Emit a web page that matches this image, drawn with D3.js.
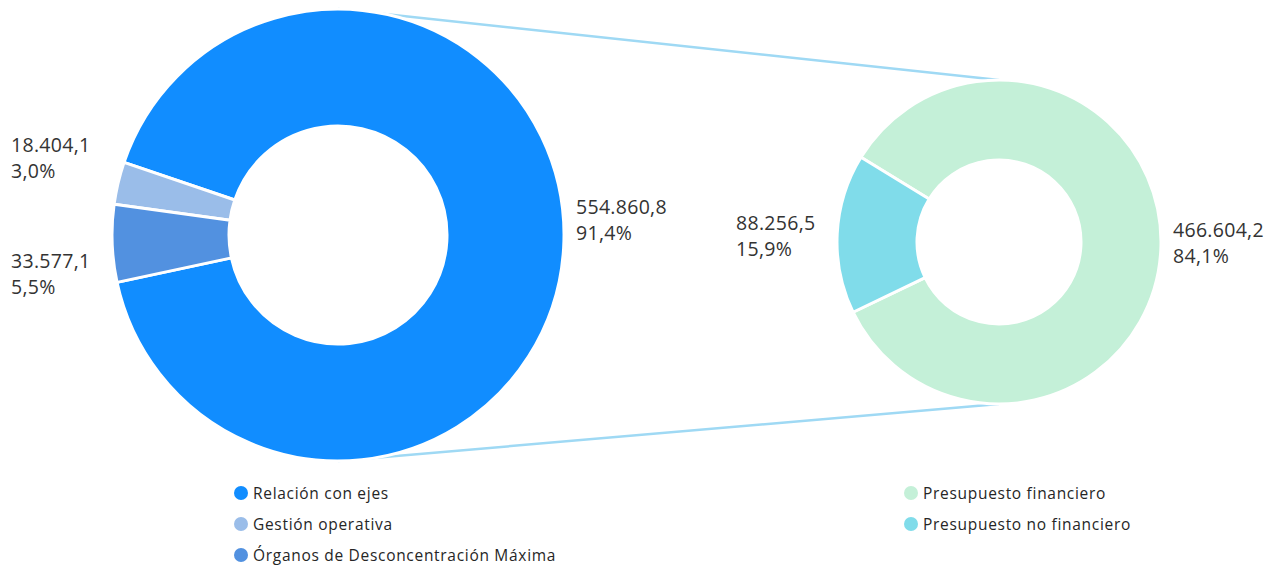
<!DOCTYPE html>
<html>
<head>
<meta charset="utf-8">
<script src="https://cdn.jsdelivr.net/npm/d3@7"></script>
<style>
  body { margin: 0; background: #fff; }
  svg { display: block; font-family: "Open Sans", "Liberation Sans", sans-serif; }
</style>
</head>
<body>
<div id="chart"></div>
<script>
'use strict';

// Data
var mainCategories = ["Relación con ejes", "Gestión operativa", "Órganos de Desconcentración Máxima"];
var mainValues = [554860.8, 18404.1, 33577.1];
var mainColors = ["#118dff", "#9abde9", "#5291e0"];

var subCategories = ["Presupuesto financiero", "Presupuesto no financiero"];
var subValues = [466604.2, 88256.5];
var subColors = ["#c4f0d8", "#80dcea"];

var lineColor = "#9fd9f4";

var App = (function() {
function run() {
  var width = 1282, height = 566;

  var locale = d3.formatLocale({decimal: ",", thousands: ".", grouping: [3], currency: ["", ""]});
  var fmtVal = locale.format(",.1f");
  var fmtPct = locale.format(".1%");

  var svg = d3.select("#chart").append("svg")
    .attr("width", width)
    .attr("height", height);

  // pie layouts, both drawn counterclockwise from lower left
  var deg = Math.PI / 180;
  var left = {cx: 338, cy: 235, r: 226, ir: 109, start: 257.9 * deg};
  var right = {cx: 999, cy: 242, r: 162, ir: 82, start: 244.3 * deg};

  // connector lines (behind the donuts)
  [[-1, -1], [1, 1]].forEach(function(s) {
    svg.append("line")
      .attr("x1", left.cx).attr("y1", left.cy + s[0] * left.r)
      .attr("x2", right.cx).attr("y2", right.cy + s[1] * right.r)
      .attr("stroke", lineColor)
      .attr("stroke-width", 2.5);
  });

  function drawDonut(cfg, values, colors, labelOffsets) {
    var pie = d3.pie().sort(null)
      .startAngle(cfg.start + 2 * Math.PI)
      .endAngle(cfg.start);
    var arc = d3.arc().innerRadius(cfg.ir).outerRadius(cfg.r);
    var total = d3.sum(values);
    var g = svg.append("g")
      .attr("transform", "translate(" + cfg.cx + "," + cfg.cy + ")");
    var arcs = pie(values);
    g.selectAll("path")
      .data(arcs)
      .enter().append("path")
      .attr("d", arc)
      .attr("fill", function(d, i) { return colors[i]; })
      .attr("stroke", "#fff")
      .attr("stroke-width", 3)
      .attr("stroke-linejoin", "round");

    // data labels
    arcs.forEach(function(d, i) {
      var mid = (d.startAngle + d.endAngle) / 2;
      var onRight = Math.sin(mid) > 0;
      var x = onRight ? cfg.r + 12 : -cfg.r - 101;
      var y = labelOffsets[i];
      var t = g.append("text")
        .attr("x", x)
        .attr("y", y)
        .attr("font-size", 19.5)
        .attr("letter-spacing", 0.3)
        .attr("fill", "#333");
      t.append("tspan").attr("x", x).text(fmtVal(values[i]));
      t.append("tspan").attr("x", x).attr("dy", 26).text(fmtPct(values[i] / total));
    });
  }

  drawDonut(left, mainValues, mainColors, [-21, -83, 33]);
  drawDonut(right, subValues, subColors, [-5, -12]);

  // legends
  function drawLegend(x, y, cats, colors) {
    var lg = svg.append("g").attr("transform", "translate(" + x + "," + y + ")");
    var rows = lg.selectAll("g").data(cats).enter().append("g")
      .attr("transform", function(d, i) { return "translate(0," + (i * 31) + ")"; });
    rows.append("circle")
      .attr("cx", 0).attr("cy", 0).attr("r", 7)
      .attr("fill", function(d, i) { return colors[i]; });
    rows.append("text")
      .attr("x", 12).attr("y", 5.5)
      .attr("font-size", 15.5)
      .attr("letter-spacing", 0.7)
      .attr("fill", "#262626")
      .text(function(d) { return d; });
  }
  drawLegend(241, 493, mainCategories, mainColors);
  drawLegend(911, 493, subCategories, subColors);
}
return { run: run };
}());
document.addEventListener('DOMContentLoaded', App.run);
</script>
</body>
</html>
